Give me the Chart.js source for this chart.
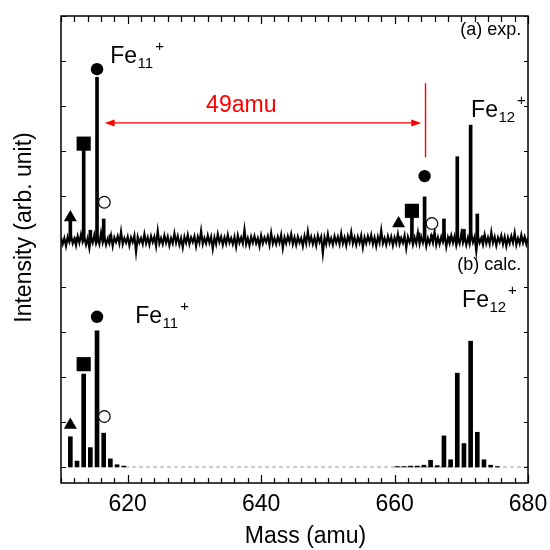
<!DOCTYPE html>
<html>
<head>
<meta charset="utf-8">
<script src="https://cdn.jsdelivr.net/npm/chart.js@4.4.1/dist/chart.umd.min.js"></script>
<style>
  html, body { margin: 0; padding: 0; background: #fff; }
  canvas { display: block; }
</style>
</head>
<body>
<canvas id="c" width="550" height="550"></canvas>
<script>
// ---- axes ----
const MASS_RANGE = [610, 680];
const MASS_TICKS = [620, 640, 660, 680];
const MASS_MINOR_STEP = 2;
const INTENSITY_RANGE = [-0.355, 10];
const INTENSITY_TICKS = [0, 1, 2, 3, 4, 5, 6, 7, 8, 9, 10];

// ---- (a) experimental spectrum (upper trace, offset by EXP_BASE) ----
const EXP_BASE = 5.03;
const EXP_PEAK_MASS   = [611.4, 612.4, 613.4, 614.4, 615.4, 616.4, 617.4, 660.6, 662.6, 663.6, 664.5, 665.6, 667.4, 668.4, 669.4, 670.4, 671.4, 672.4, 673.4];
const EXP_PEAK_HEIGHT = [0.44, 0.06, 2.00, 0.22, 3.61, 0.47, 0.12, 0.08, 0.55, 0.16, 0.96, 0.12, 0.47, 0.08, 1.85, 0.24, 2.55, 0.58, 0.10];
// detector noise on the baseline, sampled every NOISE_STEP amu from 610 (counts of NOISE_UNIT)
const NOISE_STEP = 0.25;
const NOISE_UNIT = 0.015;
const EXP_NOISE = [
  4,-6,3,-9,5,-3,7,-5,2,-8,6,-4,9,-3,4,-7,3,-12,5,-4,
  8,-5,3,-6,11,-4,5,-7,2,-5,7,-9,4,-3,6,-5,13,-6,3,-4,
  5,-8,4,-3,7,-18,5,-4,3,-6,9,-5,4,-7,6,-3,5,-9,14,-5,
  3,-6,7,-4,5,-8,3,-5,10,-4,6,-7,3,-11,5,-4,8,-6,4,-3,
  6,-9,5,-4,14,-6,3,-5,7,-4,5,-13,4,-6,9,-3,5,-7,4,-5,
  8,-4,3,-6,5,-10,7,-4,4,-5,16,-6,3,-8,5,-4,6,-5,3,-9,
  7,-5,4,-3,6,-7,11,-5,3,-6,5,-4,8,-12,4,-5,6,-3,9,-6,
  4,-7,5,-4,3,-9,6,-5,13,-4,5,-6,4,-8,7,-3,5,-20,4,-6,
  9,-5,3,-7,6,-4,5,-6,10,-5,4,-8,6,-3,12,-5,4,-7,5,-4,
  7,-11,4,-5,6,-3,8,-6,4,-9,5,-4,15,-5,3,-7,6,-4,5,-8,
  4,-5,9,-6,3,-4,7,-12,5,-3,6,-7,4,-5,11,-6,5,-4,8,-9,
  3,-5,6,-4,13,-7,4,-6,5,-3,8,-10,4,-5,7,-4,6,-8,3,-5,
  10,-4,5,-7,4,-6,9,-3,5,-17,6,-4,3,-7,8,-5,4,-6,12,-4,
  5,-8,4,-3,7,-6,5,-9,4,-5,6,-4,11,-7,3,-5,8,-4,5,-6,
  4
];

// ---- (b) calculated isotope pattern ----
const CALC_MASS   = [611.4, 612.4, 613.4, 614.4, 615.4, 616.4, 617.4, 618.4, 619.4, 660.4, 661.4, 662.4, 663.4, 664.4, 665.4, 666.4, 667.4, 668.4, 669.4, 670.4, 671.4, 672.4, 673.4, 674.4, 675.4];
const CALC_HEIGHT = [0.67, 0.13, 2.06, 0.43, 3.02, 0.75, 0.18, 0.05, 0.02, 0.01, 0.01, 0.02, 0.02, 0.04, 0.15, 0.03, 0.69, 0.16, 2.08, 0.52, 2.79, 0.77, 0.16, 0.04, 0.01];
const CALC_BASELINE_FROM = 619.6;

// ---- isotopologue markers [mass, intensity] ----
const MARK_TRIANGLE = [[611.4, 5.53], [660.6, 5.40], [611.4, 0.93]];
const MARK_SQUARE   = [[613.4, 7.17], [662.6, 5.68], [613.4, 2.28]];
const MARK_DOT      = [[615.4, 8.82], [664.5, 6.45], [615.4, 3.33]];
const MARK_RING     = [[616.5, 5.87], [665.6, 5.40], [616.5, 1.12]];

// ---- 49 amu spacing annotation ----
const SPACING_TEXT = '49amu';
const SPACING_TEXT_POS = { x: 637.02, y: 7.88 };
const SPACING_ARROW = { from: 616.54, to: 664.0, y: 7.63 };
const SPACING_TICK = { x: 664.64, y: [6.87, 8.51] };

// ---- text labels ----
const ION_LABELS = [
  { n: '11', x: 617.38, y: 8.95 },
  { n: '12', x: 671.47, y: 7.77 },
  { n: '11', x: 621.13, y: 3.19 },
  { n: '12', x: 670.12, y: 3.55 }
];
const PANEL_LABELS = [
  { text: '(a) exp.', x: 679.0, y: 9.58 },
  { text: '(b) calc.', x: 679.0, y: 4.37 }
];
const X_TITLE = 'Mass (amu)';
const Y_TITLE = 'Intensity (arb. unit)';

const FONT = '"Liberation Sans", Arial, Helvetica, sans-serif';

// ---- datasets built from the arrays above ----
const pts = arr => arr.map(([x, y]) => ({ x, y }));

const expPeaks = EXP_PEAK_MASS.map((m, i) => ({ x: m, y: [EXP_BASE, EXP_BASE + EXP_PEAK_HEIGHT[i]] }));
const expTrace = EXP_NOISE.map((n, i) => ({ x: MASS_RANGE[0] + i * NOISE_STEP, y: EXP_BASE + n * NOISE_UNIT }));
const calcBars = CALC_MASS.map((m, i) => ({ x: m, y: [0, CALC_HEIGHT[i]] }));

const markerBase = { type: 'scatter', borderWidth: 0, backgroundColor: '#000', borderColor: '#000' };

const datasets = [
  Object.assign({}, markerBase, { data: pts(MARK_TRIANGLE), pointStyle: 'triangle', pointRadius: 7.5 }),
  Object.assign({}, markerBase, { data: pts(MARK_SQUARE), pointStyle: 'rect', pointRadius: 10 }),
  Object.assign({}, markerBase, { data: pts(MARK_DOT), pointStyle: 'circle', pointRadius: 6.2 }),
  Object.assign({}, markerBase, { data: pts(MARK_RING), pointStyle: 'circle', pointRadius: 5.8, backgroundColor: '#fff', borderWidth: 1.2 }),
  {
    type: 'bar', data: expPeaks, grouped: false, barThickness: 3,
    barPercentage: 1, categoryPercentage: 1, backgroundColor: '#000', borderWidth: 0
  },
  {
    type: 'bar', data: calcBars, grouped: false, barThickness: 4,
    barPercentage: 1, categoryPercentage: 1, backgroundColor: '#000', borderWidth: 0
  },
  {
    type: 'line', data: expTrace, borderColor: '#000', borderWidth: 2.1,
    pointRadius: 0, tension: 0, fill: false
  },
  {
    type: 'line', data: [{ x: CALC_BASELINE_FROM, y: 0 }, { x: MASS_RANGE[1], y: 0 }],
    borderColor: '#9a9a9a', borderWidth: 1, borderDash: [4, 3], pointRadius: 0, fill: false
  }
];

// frame, inward ticks, annotations and titles
const decor = {
  id: 'decor',
  afterDraw(chart) {
    const { ctx, chartArea: a, scales: { x, y } } = chart;
    ctx.save();

    // inward tick marks on all four sides
    ctx.strokeStyle = '#000';
    ctx.lineWidth = 1.2;
    ctx.beginPath();
    for (let m = MASS_RANGE[0]; m <= MASS_RANGE[1]; m += MASS_MINOR_STEP) {
      const px = Math.round(x.getPixelForValue(m)) + 0.5;
      const major = MASS_TICKS.includes(m);
      ctx.moveTo(px, a.bottom); ctx.lineTo(px, a.bottom - (major ? 8 : 5));
      ctx.moveTo(px, a.top); ctx.lineTo(px, a.top + (major ? 8 : 6));
    }
    INTENSITY_TICKS.forEach(v => {
      const py = Math.round(y.getPixelForValue(v)) + 0.5;
      ctx.moveTo(a.left, py); ctx.lineTo(a.left + 5, py);
      ctx.moveTo(a.right, py); ctx.lineTo(a.right - 4, py);
    });
    ctx.stroke();

    // frame
    ctx.lineWidth = 1.5;
    ctx.strokeRect(a.left, a.top, a.right - a.left, a.bottom - a.top);

    // 49 amu double arrow and marker line
    ctx.strokeStyle = '#f00';
    ctx.fillStyle = '#f00';
    ctx.lineWidth = 1.4;
    const ay = y.getPixelForValue(SPACING_ARROW.y);
    const ax1 = x.getPixelForValue(SPACING_ARROW.from);
    const ax2 = x.getPixelForValue(SPACING_ARROW.to);
    const head = 10, half = 3.5;
    ctx.beginPath();
    ctx.moveTo(ax1 + head - 1, ay); ctx.lineTo(ax2 - head + 1, ay);
    const tx = x.getPixelForValue(SPACING_TICK.x);
    ctx.moveTo(tx, y.getPixelForValue(SPACING_TICK.y[0]));
    ctx.lineTo(tx, y.getPixelForValue(SPACING_TICK.y[1]));
    ctx.stroke();
    ctx.beginPath();
    ctx.moveTo(ax1, ay); ctx.lineTo(ax1 + head, ay - half); ctx.lineTo(ax1 + head, ay + half); ctx.closePath();
    ctx.moveTo(ax2, ay); ctx.lineTo(ax2 - head, ay - half); ctx.lineTo(ax2 - head, ay + half); ctx.closePath();
    ctx.fill();

    ctx.font = '23px ' + FONT;
    ctx.textAlign = 'center';
    ctx.textBaseline = 'alphabetic';
    ctx.fillText(SPACING_TEXT, x.getPixelForValue(SPACING_TEXT_POS.x), y.getPixelForValue(SPACING_TEXT_POS.y));

    // ion labels Fe_n^+
    ctx.fillStyle = '#000';
    ctx.textAlign = 'left';
    ION_LABELS.forEach(l => {
      const px = x.getPixelForValue(l.x), py = y.getPixelForValue(l.y);
      ctx.font = '23px ' + FONT;
      ctx.fillText('Fe', px, py);
      const w = ctx.measureText('Fe').width;
      ctx.font = '15px ' + FONT;
      ctx.fillText(l.n, px + w + 0.5, py + 5);
      const w2 = ctx.measureText(l.n).width;
      ctx.fillText('+', px + w + w2 + 2.5, py - 12);
    });

    // panel captions
    ctx.font = '18px ' + FONT;
    ctx.textAlign = 'right';
    PANEL_LABELS.forEach(l => ctx.fillText(l.text, x.getPixelForValue(l.x), y.getPixelForValue(l.y)));

    // axis titles
    ctx.font = '23px ' + FONT;
    ctx.textAlign = 'center';
    ctx.textBaseline = 'middle';
    ctx.fillText(X_TITLE, 305.5, 537);
    ctx.translate(24.5, 227.5);
    ctx.rotate(-Math.PI / 2);
    ctx.fillText(Y_TITLE, 0, 0);
    ctx.restore();
  }
};

new Chart(document.getElementById('c'), {
  type: 'scatter',
  data: { datasets },
  options: {
    responsive: false,
    animation: false,
    events: [],
    layout: { padding: { top: 16, right: 22, bottom: 0, left: 0 } },
    plugins: { legend: { display: false }, tooltip: { enabled: false } },
    scales: {
      x: {
        type: 'linear', min: MASS_RANGE[0], max: MASS_RANGE[1], offset: false,
        afterBuildTicks: s => { s.ticks = MASS_TICKS.map(v => ({ value: v })); },
        afterFit: s => { s.height = 67; s.paddingLeft = 0; s.paddingRight = 0; },
        grid: { display: false, drawTicks: false, offset: false },
        border: { display: false },
        ticks: { color: '#000', font: { family: FONT, size: 23 }, padding: 8, maxRotation: 0, autoSkip: false }
      },
      y: {
        type: 'linear', min: INTENSITY_RANGE[0], max: INTENSITY_RANGE[1],
        afterFit: s => { s.width = 61; },
        grid: { display: false, drawTicks: false },
        border: { display: false },
        ticks: { display: false }
      }
    }
  },
  plugins: [decor]
});
</script>
</body>
</html>
